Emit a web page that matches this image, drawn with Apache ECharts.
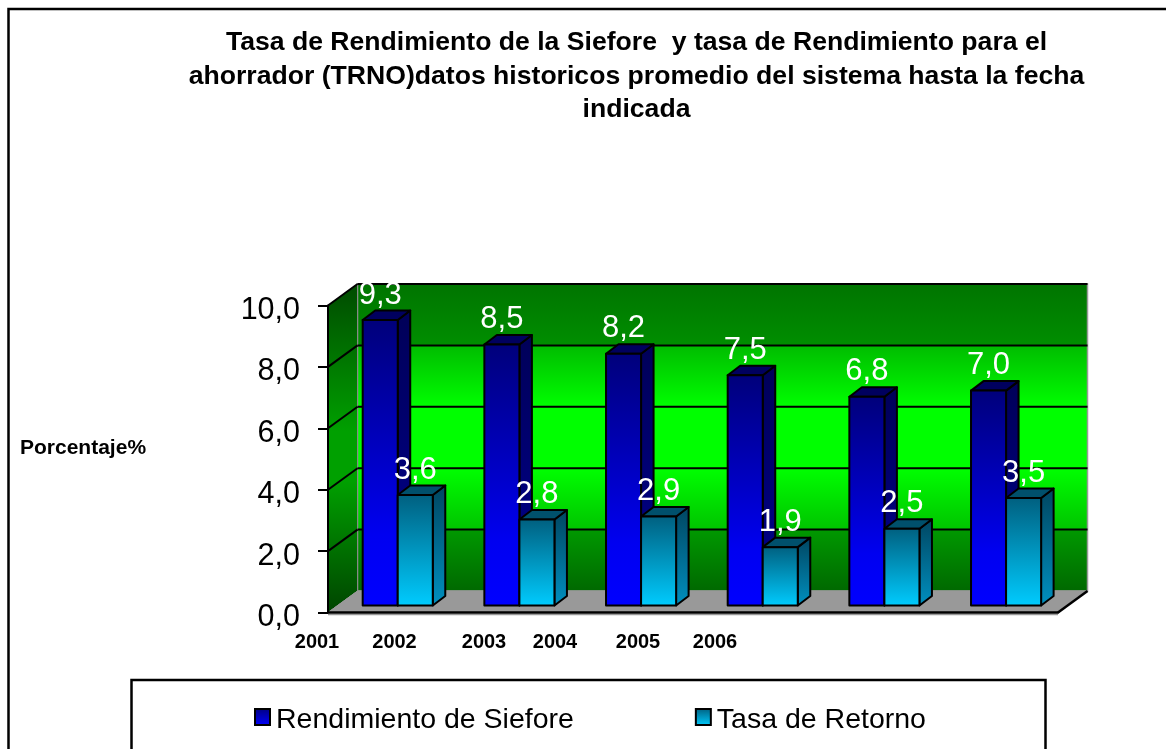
<!DOCTYPE html>
<html><head><meta charset="utf-8">
<style>html,body{margin:0;padding:0;background:#fff}#c{width:1166px;height:749px}</style>
<script src="https://cdn.jsdelivr.net/npm/echarts@6/dist/echarts.min.js"></script>
</head><body><div id="c"></div>
<script>
const categories = ['2001','2002','2003','2004','2005','2006'];
const rendimiento = [9.3,8.5,8.2,7.5,6.8,7.0];
const retorno = [3.6,2.8,2.9,1.9,2.5,3.5];
const yTicks = [0,2,4,6,8,10];
const titleText = 'Tasa de Rendimiento de la Siefore  y tasa de Rendimiento para el\nahorrador (TRNO)datos historicos promedio del sistema hasta la fecha\nindicada';
const FONT = '"Liberation Sans", Arial, sans-serif';

const WALL_DX = 29.5, WALL_DY = -21.5;   // depth of the plot box
const BAR_DX = 12.5, BAR_DY = -9.5;      // depth of a bar
const OFF_X = 8.9, OFF_Y = -7;           // bars stand inside the floor
const BAR_FRAC = 0.288;

const vGrad = (stops) => ({type:'linear',x:0,y:0,x2:0,y2:1,colorStops:stops.map(s=>({offset:s[0],color:s[1]}))});
const BLUE = {front:[[0,'#00007a'],[0.75,'#0000f0'],[1,'#0000ff']], side:[[0,'#000058'],[1,'#000090']], top:'#00005e'};
const CYAN = {front:[[0,'#005f7f'],[1,'#00ccff']], side:[[0,'#004560'],[1,'#0090c0']], top:'#00506c'};

function barRenderer(side, pal){
  return function(params, api){
    const idx = api.value(0), val = api.value(1);
    const band = api.size([1,0])[0];
    const w = band*BAR_FRAC;
    const c = api.coord([idx,val]), b = api.coord([idx,0]);
    const x0 = c[0]+OFF_X+(side<0?-w:0), x1 = x0+w;
    const yT = c[1]+OFF_Y, yB = b[1]+OFF_Y;
    const line = {stroke:'#000',lineWidth:2,lineJoin:'round'};
    return {type:'group',children:[
      {type:'polygon',z2:1,shape:{points:[[x1,yT],[x1+BAR_DX,yT+BAR_DY],[x1+BAR_DX,yB+BAR_DY],[x1,yB]]},style:{fill:vGrad(pal.side),...line}},
      {type:'polygon',z2:1,shape:{points:[[x0,yT],[x0+BAR_DX,yT+BAR_DY],[x1+BAR_DX,yT+BAR_DY],[x1,yT]]},style:{fill:pal.top,...line}},
      {type:'rect',z2:2,shape:{x:x0,y:yT,width:w,height:yB-yT},style:{fill:vGrad(pal.front),...line}},
      {type:'text',z2:50,style:{x:(x0+x1)/2,y:yT-25,text:String(val.toFixed(1)).replace('.',','),fill:'#fff',font:'31px '+FONT,textAlign:'center',textVerticalAlign:'middle'}}
    ]};
  };
}

function wallRenderer(params, api){
  const tick = api.value(0);
  const cs = params.coordSys;
  const p = api.coord([0,tick]);
  const L = cs.x, R = cs.x+cs.width;
  const y = p[1];
  const ch = [];
  if(params.dataIndex===0){
    const bot = cs.y+cs.height, top = cs.y;
    const bTop = top+WALL_DY, bBot = bot+WALL_DY, bL = L+WALL_DX, bR = R+WALL_DX;
    ch.push(
      {type:'rect',z2:1,shape:{x:bL,y:bTop,width:bR-bL,height:bBot-bTop},
       style:{fill:vGrad([[0,'#007400'],[0.198,'#008e00'],[0.202,'#00bc00'],[0.4,'#00ff00'],[0.6,'#00ff00'],[0.798,'#00c400'],[0.802,'#009800'],[1,'#006800']]),stroke:'#999',lineWidth:1.5}},
      {type:'polygon',z2:1,shape:{points:[[L,top],[bL,bTop],[bL,bBot],[L,bot]]},
       style:{fill:vGrad([[0,'#004a00'],[0.45,'#00a000'],[0.6,'#00a000'],[1,'#004400']]),stroke:'#888',lineWidth:1}},
      {type:'polygon',z2:3,shape:{points:[[L,bot],[bL,bBot],[bR,bBot],[R,bot]]},
       style:{fill:'#999',stroke:'#999',lineWidth:1}},
      {type:'line',z2:4,shape:{x1:R,y1:bot,x2:bR,y2:bBot},style:{stroke:'#000',lineWidth:2.5}},
      {type:'line',z2:4,shape:{x1:L,y1:bot+2,x2:R,y2:bot+2},style:{stroke:'#999',lineWidth:1.5}}
    );
  }
  if(tick>0){
    ch.push(
      {type:'line',z2:2,shape:{x1:L,y1:y,x2:L+WALL_DX,y2:y+WALL_DY},style:{stroke:'#000',lineWidth:2}},
      {type:'line',z2:2,shape:{x1:L+WALL_DX,y1:y+WALL_DY,x2:R+WALL_DX,y2:y+WALL_DY},style:{stroke:'#000',lineWidth:2}}
    );
  }
  return {type:'group',children:ch};
}

const yearLabelX = [317,394.5,484,555,638,715];
const chart = echarts.init(document.getElementById('c'),null,{renderer:'canvas'});
chart.setOption({
  animation:false,
  backgroundColor:'#fff',
  title:{text:titleText,left:631.5,top:21,textAlign:'center',
    textStyle:{fontFamily:FONT,fontSize:26.6,fontWeight:'bold',color:'#000',lineHeight:33.5}},
  legend:{left:254,top:706,padding:0,itemWidth:15,itemHeight:16,itemGap:121,
    icon:'rect',selectedMode:false,
    data:['Rendimiento de Siefore','Tasa de Retorno'],
    textStyle:{fontFamily:FONT,color:'#000',rich:{t:{fontFamily:FONT,fontSize:28.5,color:'#000',padding:[7,0,0,1]}}},
    formatter:n=>'{t|'+n+'}'},
  grid:{left:328,top:305.5,width:730,height:307},
  xAxis:{type:'category',data:categories,boundaryGap:true,z:5,
    axisLine:{show:true,lineStyle:{color:'#000',width:2.5}},axisTick:{show:false},axisLabel:{show:false}},
  yAxis:{type:'value',min:0,max:10,interval:2,z:5,
    axisLine:{show:true,lineStyle:{color:'#000',width:2}},
    axisTick:{show:true,length:10,lineStyle:{color:'#000',width:2}},
    splitLine:{show:false},
    axisLabel:{margin:28,rich:{v:{fontFamily:FONT,fontSize:30.5,color:'#000',padding:[10,0,0,0]}},
      formatter:v=>'{v|'+v.toFixed(1).replace('.',',')+'}'}},
  graphic:[
    {type:'rect',z:-10,silent:true,shape:{x:8.5,y:9,width:1200,height:800},style:{fill:'none',stroke:'#000',lineWidth:2.5}},
    {type:'rect',z:-5,silent:true,shape:{x:131.5,y:680,width:914,height:90},style:{fill:'#fff',stroke:'#000',lineWidth:2.5}},
    {type:'rect',z:100,silent:true,shape:{x:358,y:270,width:60,height:12.5},style:{fill:'#fff'}},
    {type:'text',z:20,silent:true,style:{x:20,y:448.5,text:'Porcentaje%',fill:'#000',font:'bold 21px '+FONT,textAlign:'left',textVerticalAlign:'middle'}},
    ...categories.map((t,i)=>({type:'text',z:20,silent:true,style:{x:yearLabelX[i],y:642,text:t,fill:'#000',font:'bold 20px '+FONT,textAlign:'center',textVerticalAlign:'middle'}}))
  ],
  series:[
    {type:'custom',name:'walls',z:1,silent:true,clip:false,coordinateSystem:'cartesian2d',data:yTicks.map(v=>[v]),
     encode:{y:0},renderItem:wallRenderer},
    {type:'custom',name:'Rendimiento de Siefore',z:2,clip:false,data:rendimiento.map((v,i)=>[i,v]),encode:{x:0,y:1},
     itemStyle:{color:vGrad([[0,'#000080'],[1,'#0000ff']]),borderColor:'#000',borderWidth:2},renderItem:barRenderer(-1,BLUE)},
    {type:'custom',name:'Tasa de Retorno',z:2,clip:false,data:retorno.map((v,i)=>[i,v]),encode:{x:0,y:1},
     itemStyle:{color:vGrad([[0,'#005f7f'],[1,'#00ccff']]),borderColor:'#000',borderWidth:2},renderItem:barRenderer(1,CYAN)}
  ]
});
</script></body></html>
